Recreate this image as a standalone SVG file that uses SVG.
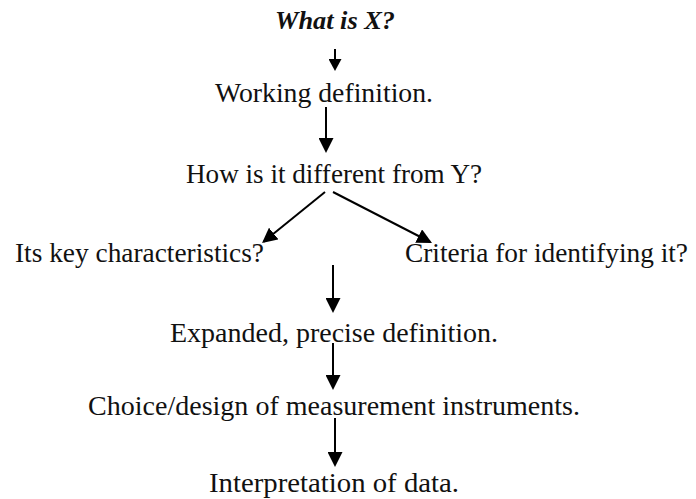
<svg xmlns="http://www.w3.org/2000/svg" width="696" height="499" viewBox="0 0 696 499">
<style>
text { font-family: "Liberation Serif", "DejaVu Serif", serif; font-size: 28px; fill: #111; }
.title { font-weight: bold; font-style: italic; font-size: 25px; }
#connectors line { stroke: #000; stroke-width: 2; fill: none; }
</style>
<defs>
<marker id="ah" viewBox="0 0 15 15" refX="13" refY="7.5" markerWidth="15" markerHeight="15" orient="auto" markerUnits="userSpaceOnUse">
<path d="M0,0 L15,7.5 L0,15 Z" fill="#000"/>
</marker>
<marker id="ahs" viewBox="0 0 12 13" refX="10" refY="6.5" markerWidth="12" markerHeight="13" orient="auto" markerUnits="userSpaceOnUse">
<path d="M0,0 L12,6.5 L0,13 Z" fill="#000"/>
</marker>
</defs>
<rect width="696" height="499" fill="#fff"/>
<g id="n-what"><text class="title" x="275" y="29" textLength="120" lengthAdjust="spacingAndGlyphs">What is X?</text></g>
<g id="n-working"><text x="215" y="102" textLength="218" lengthAdjust="spacingAndGlyphs">Working definition.</text></g>
<g id="n-how"><text x="186" y="183" textLength="296" lengthAdjust="spacingAndGlyphs">How is it different from Y?</text></g>
<g id="n-key"><text x="15" y="262" textLength="249" lengthAdjust="spacingAndGlyphs">Its key characteristics?</text></g>
<g id="n-criteria"><text x="405" y="262" textLength="283" lengthAdjust="spacingAndGlyphs">Criteria for identifying it?</text></g>
<g id="n-expanded"><text x="170" y="342" textLength="328" lengthAdjust="spacingAndGlyphs">Expanded, precise definition.</text></g>
<g id="n-choice"><text x="88" y="415" textLength="492" lengthAdjust="spacingAndGlyphs">Choice/design of measurement instruments.</text></g>
<g id="n-interp"><text x="209" y="492" textLength="250" lengthAdjust="spacingAndGlyphs">Interpretation of data.</text></g>
<g id="connectors">
<line x1="335" y1="49" x2="335" y2="69" marker-end="url(#ahs)"/>
<line x1="326" y1="107" x2="326" y2="151" marker-end="url(#ah)"/>
<line x1="325" y1="192" x2="263.6" y2="241.7" marker-end="url(#ah)"/>
<line x1="333" y1="192" x2="430.2" y2="242" marker-end="url(#ah)"/>
<line x1="333" y1="265" x2="333" y2="311" marker-end="url(#ah)"/>
<line x1="333" y1="343" x2="333" y2="388" marker-end="url(#ah)"/>
<line x1="335" y1="418" x2="335" y2="465" marker-end="url(#ah)"/>
</g>
</svg>
